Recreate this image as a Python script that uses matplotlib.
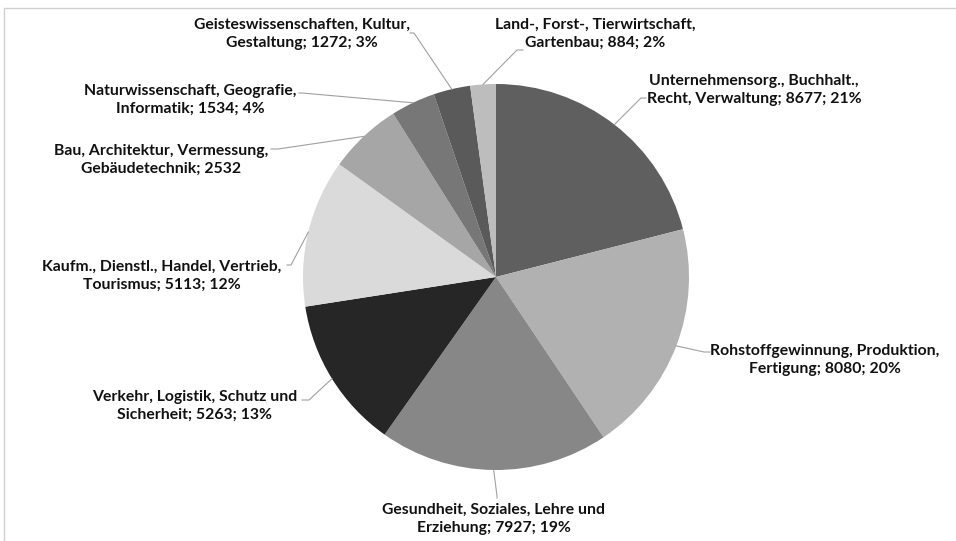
import numpy as np
import matplotlib.pyplot as plt
from matplotlib.patches import Rectangle

# daten aus dem diagramm
kategorien = [
    "Unternehmensorg., Buchhalt.,\nRecht, Verwaltung",
    "Rohstoffgewinnung, Produktion,\nFertigung",
    "Gesundheit, Soziales, Lehre und\nErziehung",
    "Verkehr, Logistik, Schutz und\nSicherheit",
    "Kaufm., Dienstl., Handel, Vertrieb,\nTourismus",
    "Bau, Architektur, Vermessung,\nGebäudetechnik",
    "Naturwissenschaft, Geografie,\nInformatik",
    "Geisteswissenschaften, Kultur,\nGestaltung",
    "Land-, Forst-, Tierwirtschaft,\nGartenbau",
]
werte = [8677, 8080, 7927, 5263, 5113, 2532, 1534, 1272, 884]
prozent = ["21%", "20%", "19%", "13%", "12%", "", "4%", "3%", "2%"]

farben = ["#5f5f5f", "#b1b1b1", "#878787", "#262626", "#dadada",
          "#a6a6a6", "#777777", "#5a5a5a", "#bdbdbd"]

# positionen der beschriftungen (pixel, oben links = 0,0)
text_pos = [(754, 90), (825, 360), (494, 519), (195, 406), (162, 276),
            (161, 160), (190, 100), (302, 34), (595, 34)]
# knick- und endpunkt der fuehrungslinien
knick = [(641, 98), (704, 352), (497, 496), (309, 400), (291, 265),
         (278, 149), (302, 93), (414, 33), (517, 50)]
ende = [(646, 98), (710, 352), (497, 498), (302, 400), (287, 265),
        (271, 149), (299, 93), (410, 33), (523, 50)]

W, H = 956, 541
cx, cy, r = 496, 277, 193

fig = plt.figure(figsize=(W / 100, H / 100), dpi=100)
ax = fig.add_axes([0, 0, 1, 1])

# rahmen (nur links/oben sichtbar)
ax.add_patch(Rectangle((4, -20), W + 40, H - 8 + 20, fill=False,
                       edgecolor="#d0d0d0", linewidth=1))

wedges, _ = ax.pie(werte, colors=farben, startangle=90, counterclock=False,
                   center=(cx, H - cy), radius=r, frame=True,
                   wedgeprops=dict(linewidth=0))
ax.set_xlim(0, W)
ax.set_ylim(0, H)
ax.axis("off")

for i, w in enumerate(wedges):
    mitte = np.deg2rad((w.theta1 + w.theta2) / 2)
    px = cx + r * np.cos(mitte)
    py = (H - cy) + r * np.sin(mitte)
    kx, ky = knick[i]
    ex, ey = ende[i]
    ax.plot([px, kx, ex], [py, H - ky, H - ey], color="#a0a0a0", lw=0.8)
    txt = f"{kategorien[i]}; {werte[i]}"
    if prozent[i]:
        txt += f"; {prozent[i]}"
    tx, ty = text_pos[i]
    ax.text(tx, H - ty, txt, ha="center", va="center", fontsize=11.3,
            fontweight="bold", family="Lato", color="#111111",
            linespacing=1.33)

fig.savefig("out.png", dpi=100, facecolor="white")
